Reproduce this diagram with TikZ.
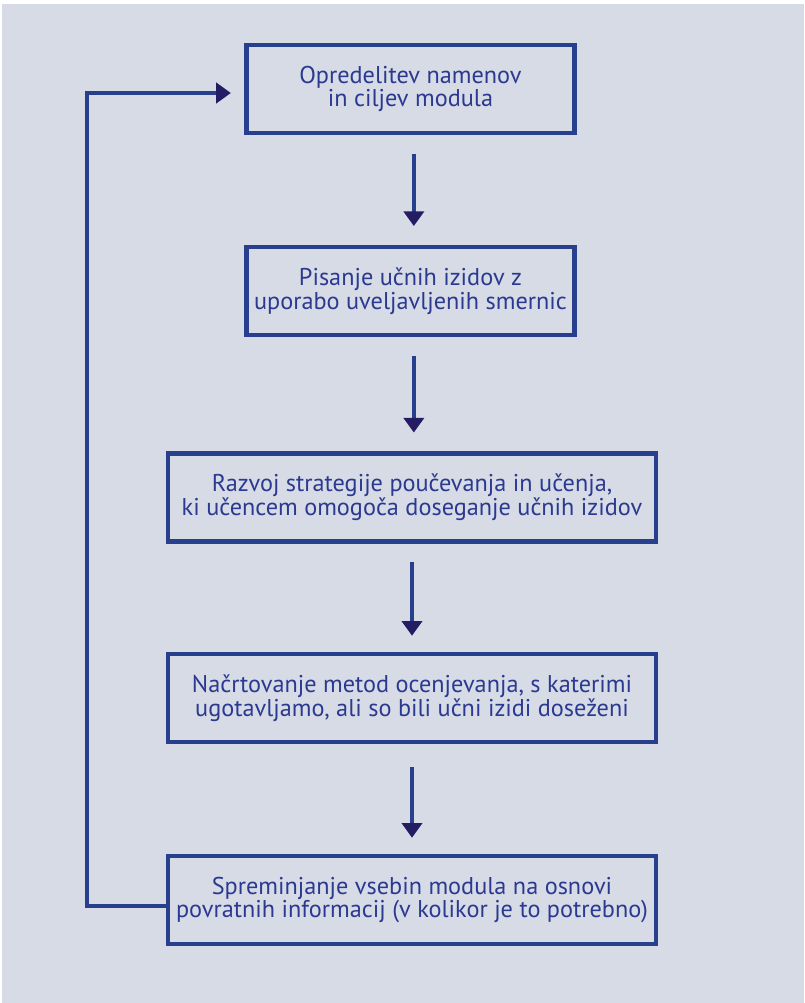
\documentclass[tikz,border=0pt]{standalone}
\usepackage{fontspec}
\setmainfont{PT Sans}
\usetikzlibrary{arrows.meta,calc}
\definecolor{bgc}{HTML}{D6DBE6}
\definecolor{boxc}{HTML}{283F8E}
\definecolor{txtc}{HTML}{2B3990}
\definecolor{headc}{HTML}{251D63}
\tikzset{
  stepbox/.style={draw=boxc, line width=3.4pt, minimum height=66pt, align=center,
    text=txtc, font=\fontsize{18.2}{17.8}\selectfont, inner sep=0pt},
  narrowbox/.style={stepbox, minimum width=246pt},
  widebox/.style={stepbox, minimum width=366pt},
  flow/.style={draw=boxc, line width=3pt,
    -{Triangle[width=15pt,length=11pt,color=headc]}},
}
\begin{document}
\begin{tikzpicture}[x=0.75pt,y=-0.75pt]
\useasboundingbox (0,0) rectangle (804,1003);
\fill[bgc] (2,4) rectangle (804,1003);
\node[narrowbox] (b1) at (410.5,89) {Opredelitev namenov\\in ciljev modula};
\node[narrowbox] (b2) at (410.5,291) {Pisanje učnih izidov z\\uporabo uveljavljenih smernic};
\node[widebox] (b3) at (412,497.5) {Razvoj strategije poučevanja in učenja,\\ki učencem omogoča doseganje učnih izidov};
\node[widebox] (b4) at (412,698) {Načrtovanje metod ocenjevanja, s katerimi\\ugotavljamo, ali so bili učni izidi doseženi};
\node[widebox] (b5) at (412,900) {Spreminjanje vsebin modula na osnovi\\povratnih informacij (v kolikor je to potrebno)};
\coordinate (fb) at (87,93);
\coordinate (fbb) at (87,906);
\draw[flow, shorten <=14pt, shorten >=14pt] ([xshift=2.5]b1.south) -- ([xshift=2.5]b1.south |- b2.north);
\draw[flow, shorten <=14pt, shorten >=14pt] ([xshift=2.5]b2.south) -- ([xshift=2.5]b2.south |- b3.north);
\draw[flow, shorten <=14pt, shorten >=12pt] (b3.south) -- (b4.north);
\draw[flow, shorten <=17pt, shorten >=12pt] (b4.south) -- (b5.north);
\draw[flow, shorten >=10pt] (b5.west |- fbb) -- (fbb) -- (fb) -- (b1.west |- fb);
\end{tikzpicture}
\end{document}
